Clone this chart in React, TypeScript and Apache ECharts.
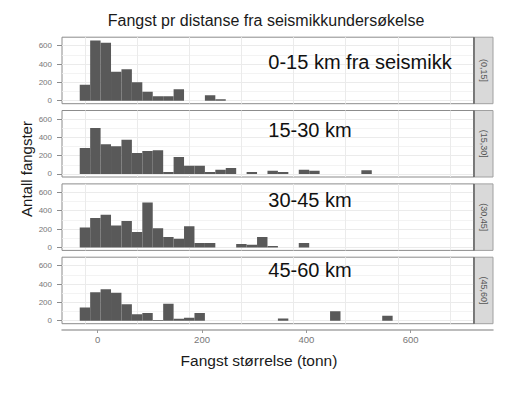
import React, { useEffect, useRef } from "react";
import * as echarts from "echarts";

// Histogram bins (tonn): centres, width 20
const BIN_WIDTH = 20;
const binCenters = [0, 20, 40, 60, 80, 100, 120, 140, 160, 180, 200, 220, 240, 260, 280, 300, 320, 340, 360, 380, 400, 420, 440, 460, 480, 500, 520, 540, 560, 580];

const counts_0_15 = [175, 658, 633, 316, 342, 200, 98, 47, 47, 124, 0, 0, 58, 15];
const counts_15_30 = [284, 502, 324, 302, 375, 229, 251, 258, 22, 185, 91, 91, 22, 47, 65, 0, 22, 0, 36, 22, 0, 47, 36, 0, 0, 0, 0, 40];
const counts_30_45 = [216, 322, 355, 238, 289, 168, 490, 209, 113, 95, 230, 48, 48, 0, 0, 37, 29, 113, 15, 0, 0, 48];
const counts_45_60 = [145, 309, 342, 305, 178, 69, 84, 8, 185, 20, 32, 84, 0, 0, 0, 0, 0, 0, 0, 25, 0, 0, 0, 0, 102, 0, 0, 0, 0, 55];

const panelCounts = [counts_0_15, counts_15_30, counts_30_45, counts_45_60];
const stripLabels = ["(0,15]", "(15,30]", "(30,45]", "(45,60]"];
const panelNotes = ["0-15 km fra seismikk", "15-30 km", "30-45 km", "45-60 km"];

const yTickValues = [0, 200, 400, 600];
const yMinorValues = [100, 300, 500];
const xGridValues = [0, 100, 200, 300, 400, 500, 600, 700];
const xTickValues = [0, 200, 400, 600];

const TITLE = "Fangst pr distanse fra seismikkundersøkelse";
const Y_TITLE = "Antall fangster";
const X_TITLE = "Fangst størrelse (tonn)";

const FONT = "Liberation Sans, Arial, sans-serif";

export default function App() {
  const ref = useRef<HTMLDivElement>(null);

  useEffect(() => {
    if (!ref.current) return;
    const chart = echarts.init(ref.current, undefined, { renderer: "svg" });

    const panelTops = [37.2, 110.5, 183.9, 257.2];
    const panelH = 66.5;
    const left = 62;
    const right = 48;
    const panelRight = 522 - right;

    const grids: any[] = panelTops.map((t) => ({
      left,
      right,
      top: t,
      height: panelH,
      show: true,
      backgroundColor: "#ffffff",
      borderColor: "#8c8c8c",
      borderWidth: 1,
      containLabel: false,
    }));
    grids.push({ left, right: 29, top: 329, height: 1, show: false });

    const xAxes: any[] = panelTops.map((_, i) => ({
      type: "value",
      gridIndex: i,
      min: -44,
      max: 746,
      axisLine: { show: false, onZero: false },
      axisTick: { show: false, customValues: xGridValues },
      axisLabel: { show: false },
      splitLine: { show: true, lineStyle: { color: "#ebebeb", width: 1 } },
    }));
    xAxes.push({
      type: "value",
      gridIndex: 4,
      position: "bottom",
      min: -68.5,
      max: 758,
      axisLine: { show: true, onZero: false, lineStyle: { color: "#a6a6a6", width: 1.5 } },
      axisTick: { show: true, length: 3, customValues: xTickValues, lineStyle: { color: "#999" } },
      axisLabel: { show: true, customValues: xTickValues, color: "#777", fontSize: 9.5, margin: 4, fontFamily: FONT },
      splitLine: { show: false },
    });

    const yAxes: any[] = [];
    panelTops.forEach((_, i) => {
      yAxes.push({
        type: "value",
        gridIndex: i,
        position: "left",
        min: -33,
        max: 693,
        axisLine: { show: false, onZero: false },
        axisTick: { show: true, inside: false, length: 5, customValues: yTickValues, lineStyle: { color: "#8c8c8c" } },
        axisLabel: { show: true, inside: false, customValues: yTickValues, color: "#777777", fontSize: 8, margin: 10, fontFamily: FONT },
        splitLine: { show: true, lineStyle: { color: "#ebebeb", width: 1 } },
      });
      yAxes.push({
        type: "value",
        gridIndex: i,
        position: "right",
        min: -33,
        max: 693,
        axisLine: { show: false, onZero: false },
        axisTick: { show: false, customValues: yMinorValues },
        axisLabel: { show: false },
        splitLine: { show: true, lineStyle: { color: "#f0f0f0", width: 0.8 } },
      });
    });
    yAxes.push({ type: "value", gridIndex: 4, show: false, min: 0, max: 1 });

    const series: any[] = panelCounts.map((counts, i) => ({
      type: "custom",
      xAxisIndex: i,
      yAxisIndex: 2 * i,
      clip: true,
      data: counts
        .map((c, k) => [binCenters[k], c])
        .filter((d) => d[1] > 0),
      renderItem: (params: any, api: any) => {
        const c = api.value(0);
        const v = api.value(1);
        const p1 = api.coord([c - BIN_WIDTH / 2, v]);
        const p2 = api.coord([c + BIN_WIDTH / 2, 0]);
        return {
          type: "rect",
          shape: { x: p1[0], y: p1[1], width: p2[0] - p1[0], height: p2[1] - p1[1] },
          style: { fill: "#595959" },
        };
      },
    }));

    const graphics: any[] = [
      {
        type: "text",
        x: 266,
        y: 20,
        z: 100,
        style: { text: TITLE, fontSize: 16, fontFamily: FONT, fill: "#1a1a1a", align: "center", verticalAlign: "middle" },
      },
      {
        type: "text",
        x: 26,
        y: 169,
        z: 100,
        rotation: Math.PI / 2,
        style: { text: Y_TITLE, fontSize: 15, fontFamily: FONT, fill: "#1a1a1a", align: "center", verticalAlign: "middle" },
      },
      {
        type: "text",
        x: 259,
        y: 360,
        z: 100,
        style: { text: X_TITLE, fontSize: 15.5, fontFamily: FONT, fill: "#1a1a1a", align: "center", verticalAlign: "middle" },
      },
    ];
    const noteY = [62.3, 130, 200, 270];
    panelTops.forEach((t, i) => {
      graphics.push({
        type: "rect",
        z: 100,
        shape: { x: panelRight, y: t, width: 19, height: panelH },
        style: { fill: "#d9d9d9", stroke: "#a0a0a0", lineWidth: 1 },
      });
      graphics.push({
        type: "line",
        z: 101,
        shape: { x1: panelRight, y1: t, x2: panelRight, y2: t + panelH },
        style: { stroke: "#4d4d4d", lineWidth: 1.2 },
      });
      graphics.push({
        type: "text",
        z: 101,
        x: panelRight + 9.5,
        y: t + panelH / 2,
        rotation: -Math.PI / 2,
        style: { text: stripLabels[i], fontSize: 9, fontFamily: FONT, fill: "#555", align: "center", verticalAlign: "middle" },
      });
      graphics.push({
        type: "text",
        z: 101,
        x: 268.3,
        y: noteY[i],
        style: { text: panelNotes[i], fontSize: 20, fontFamily: FONT, fill: "#111", align: "left", verticalAlign: "middle" },
      });
    });

    chart.setOption({
      animation: false,
      backgroundColor: "#ffffff",
      grid: grids,
      xAxis: xAxes,
      yAxis: yAxes,
      series,
      graphic: graphics,
    });

    return () => chart.dispose();
  }, []);

  return <div ref={ref} style={{ position: "fixed", left: 0, top: 0, width: 522, height: 396 }} />;
}
